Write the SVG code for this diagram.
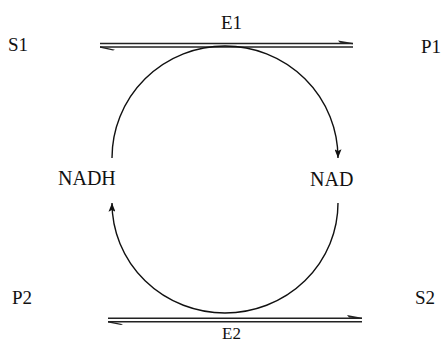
<svg xmlns="http://www.w3.org/2000/svg" width="447" height="344" viewBox="0 0 447 344">
<defs>
<style>
text{font-family:"Liberation Serif","Times New Roman",serif;fill:#111;}
.lbl{font-size:19px;}
.big{font-size:20px;}
.sm{font-size:17px;}
.ln{stroke:#222;stroke-width:1.4;fill:none;}
.arc{stroke:#111;stroke-width:1.4;fill:none;}
.barb{fill:#222;stroke:none;}
</style>
<marker id="ah" viewBox="0 0 10 8" refX="10" refY="4" markerWidth="10" markerHeight="7" markerUnits="userSpaceOnUse" orient="auto">
<path d="M0,0 L10,4 L0,8 L2,4 Z" fill="#111"/>
</marker>
</defs>
<rect width="447" height="344" fill="#fff"/>
<g id="S1"><text class="lbl" x="8" y="51">S1</text></g>
<g id="P1"><text class="lbl" x="421" y="53">P1</text></g>
<g id="E1"><text class="lbl" x="221" y="29">E1</text></g>
<g id="NADH"><text class="big" x="58" y="185">NADH</text></g>
<g id="NAD"><text class="big" x="310" y="186">NAD</text></g>
<g id="P2"><text class="lbl" x="12" y="304">P2</text></g>
<g id="S2"><text class="lbl" x="415" y="304">S2</text></g>
<g id="E2"><text class="sm" x="222" y="339">E2</text></g>
<g id="connectors">
<line class="ln" x1="100" y1="43.5" x2="353" y2="43.5"/>
<path class="barb" d="M338,40.5 L353,43 L353,44.3 L340,42.8 Z"/>
<line class="ln" x1="100" y1="47" x2="353" y2="47"/>
<path class="barb" d="M100,46.3 L115,49.8 L113,50.5 L100,47.8 Z"/>
<line class="ln" x1="108" y1="318.3" x2="362" y2="318.3"/>
<path class="barb" d="M347,315 L362,317.7 L362,319 L349,317.5 Z"/>
<line class="ln" x1="108" y1="321.7" x2="362" y2="321.7"/>
<path class="barb" d="M108,321 L123,324.3 L121,325 L108,322.5 Z"/>
<path class="arc" d="M112,158 A113,112 0 0 1 338,158" marker-end="url(#ah)"/>
<path class="arc" d="M338,203 A113,110 0 0 1 112,203" marker-end="url(#ah)"/>
</g>
</svg>
